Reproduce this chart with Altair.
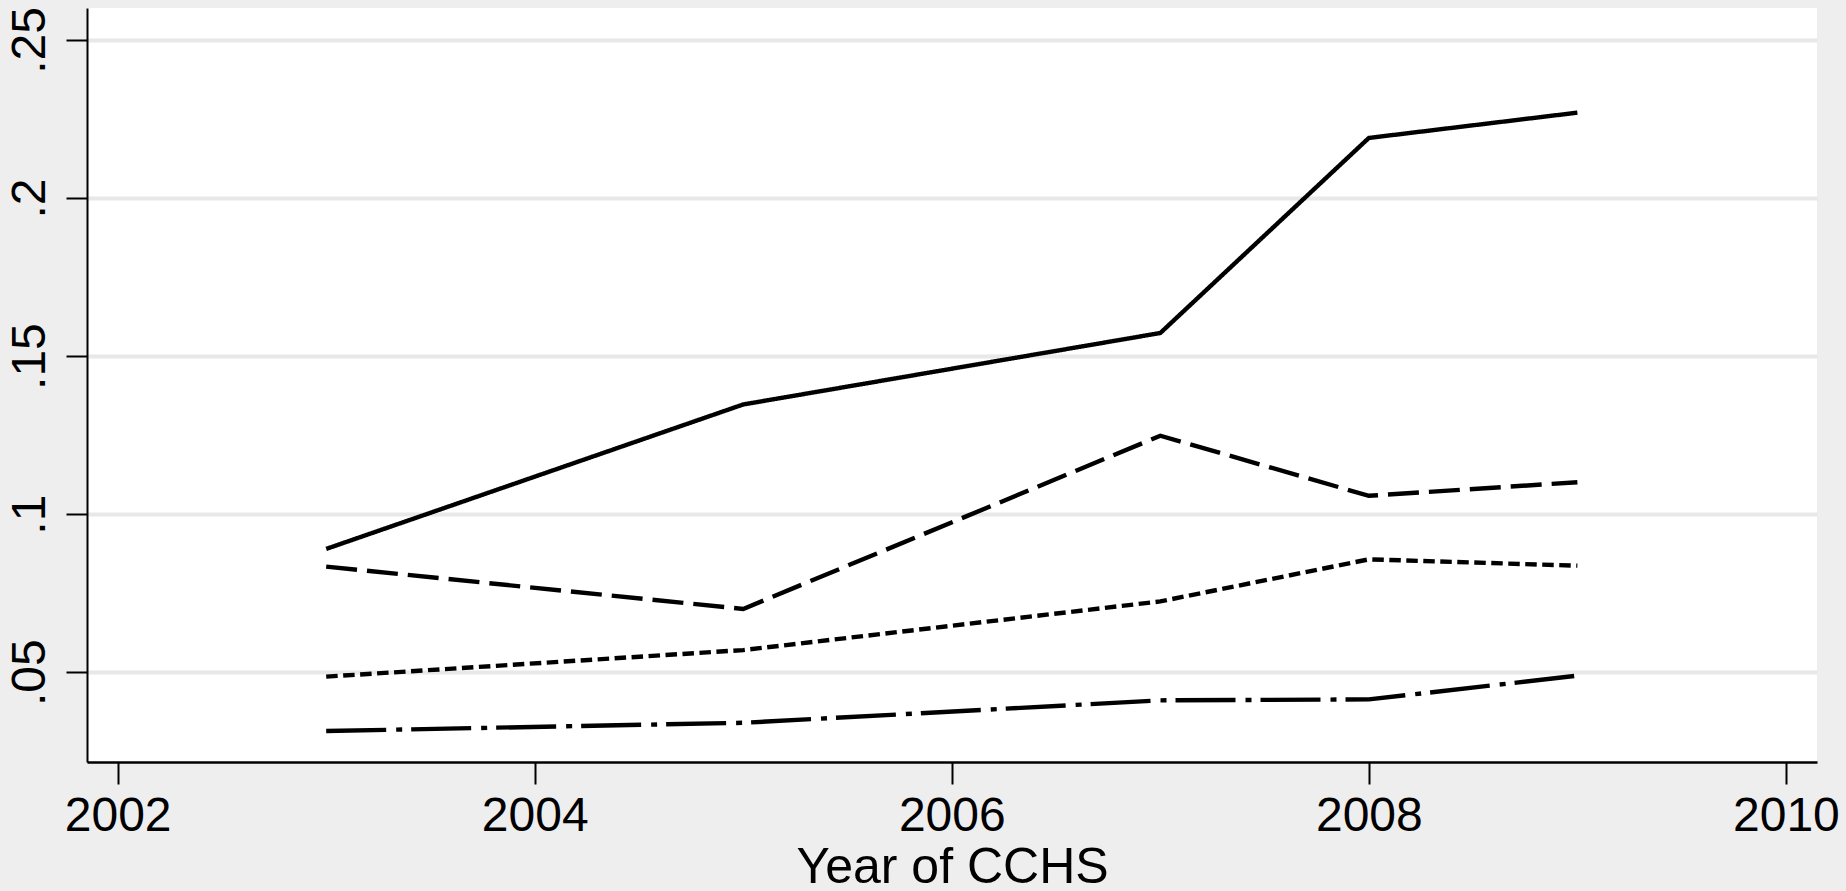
import altair as alt
import pandas as pd

# CCHS survey cycles
years = [2003, 2005, 2007, 2008, 2009]

# one list per plotted series
series_solid = [0.0890, 0.1347, 0.1573, 0.2190, 0.2270]
series_longdash = [0.0834, 0.0700, 0.1248, 0.1058, 0.1101]
series_shortdash = [0.0486, 0.0570, 0.0724, 0.0857, 0.0837]
series_dashdot = [0.0314, 0.0340, 0.0411, 0.0414, 0.0489]

series_names = ["solid", "longdash", "shortdash", "dashdot"]
series_values = [series_solid, series_longdash, series_shortdash, series_dashdot]
dash_patterns = [[1, 0], [31, 10], [11.5, 5.5], [60, 10, 6, 9]]

x_ticks = [2002, 2004, 2006, 2008, 2010]
y_ticks = [0.05, 0.10, 0.15, 0.20, 0.25]

rows = []
for name, vals in zip(series_names, series_values):
    for yr, v in zip(years, vals):
        rows.append({"year": yr, "value": v, "series": name})
df = pd.DataFrame(rows)

FONT = "Liberation Sans"

chart = (
    alt.Chart(df)
    .mark_line(color="black", strokeWidth=4.4, strokeCap="butt")
    .encode(
        x=alt.X(
            "year:Q",
            scale=alt.Scale(domain=[2001.853, 2010.149], nice=False, zero=False),
            axis=alt.Axis(
                values=x_ticks,
                format="d",
                title="Year of CCHS",
                grid=False,
                domainColor="black",
                domainWidth=2.5,
                tickColor="black",
                tickWidth=2,
                tickSize=22,
                labelFontSize=48,
                labelFont=FONT,
                labelColor="black",
                labelPadding=8,
                titleFont=FONT,
                titleFontSize=50,
                titleFontWeight="normal",
                titleColor="black",
                titlePadding=2,
            ),
        ),
        y=alt.Y(
            "value:Q",
            scale=alt.Scale(domain=[0.0216, 0.2601], nice=False, zero=False),
            axis=alt.Axis(
                values=y_ticks,
                labelExpr="replace(format(datum.value, '.2~f'), '0.', '.')",
                title=None,
                grid=True,
                gridColor="#E8E8E8",
                gridWidth=4,
                domainColor="black",
                domainWidth=2,
                tickColor="black",
                tickWidth=2,
                tickSize=21,
                labelFontSize=48,
                labelFont=FONT,
                labelColor="black",
                labelAngle=270,
                labelAlign="center",
                labelBaseline="bottom",
                labelPadding=12,
            ),
        ),
        strokeDash=alt.StrokeDash(
            "series:N",
            scale=alt.Scale(domain=series_names, range=dash_patterns),
            legend=None,
        ),
        detail="series:N",
    )
    .properties(
        width=1730,
        height=754,
        background="#EEEEEE",
        padding={"left": 87, "top": 8, "right": 29, "bottom": 129},
        autosize=alt.AutoSizeParams(type="none"),
    )
    .configure_view(fill="white", stroke=None)
)

chart.save("out.html", embed_options={"renderer": "svg", "actions": False})
